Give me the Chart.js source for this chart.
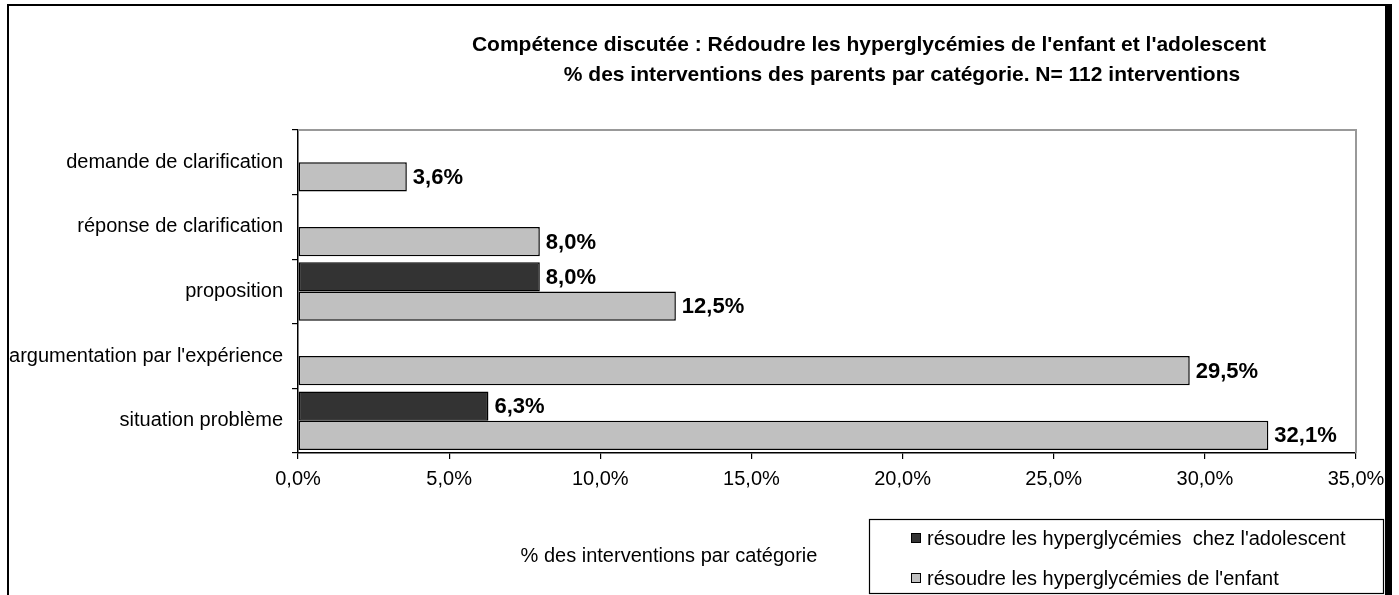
<!DOCTYPE html>
<html>
<head>
<meta charset="utf-8">
<script src="https://cdn.jsdelivr.net/npm/chart.js@4.4.1/dist/chart.umd.min.js"></script>
<style>
    body { margin: 0; background: #fff; }
    #wrap { position: relative; width: 1399px; height: 595px; }
    #frame {
        position: absolute; left: 7px; top: 4px; width: 1385px; height: 600px;
        border-left: 2px solid #000; border-top: 2px solid #000; border-right: 7px solid #000;
        box-sizing: border-box;
    }
    #chartBox { position: absolute; left: 0; top: 0; width: 1399px; height: 595px; }
</style>
</head>
<body>
<div id="wrap">
    <div id="frame"></div>
    <div id="chartBox"><canvas id="hyperChart"></canvas></div>
</div>
<script>
// categories, top to bottom
const categories = [
    'demande de clarification',
    'réponse de clarification',
    'proposition',
    "argumentation par l'expérience",
    'situation problème'
];
// % of interventions, null = no bar
const adolescentValues = [null, null, 8.0, null, 6.3];
const enfantValues = [3.6, 8.0, 12.5, 29.5, 32.1];
const seriesLabels = [
    "résoudre les hyperglycémies  chez l'adolescent",
    "résoudre les hyperglycémies de l'enfant"
];
const xTicks = [0, 5, 10, 15, 20, 25, 30, 35];
const titleLines = [
    "Compétence discutée : Rédoudre les hyperglycémies de l'enfant et l'adolescent",
    "% des interventions des parents par catégorie. N= 112 interventions"
];
const xAxisTitle = '% des interventions par catégorie';

const FONT = '"Liberation Sans", Arial, sans-serif';
const fmtPct = v => v.toFixed(1).replace('.', ',') + '%';

Chart.defaults.color = '#000';
Chart.defaults.font.family = FONT;

// value labels next to each bar
const barLabels = {
    id: 'barLabels',
    afterDatasetsDraw(chart) {
        const ctx = chart.ctx;
        ctx.save();
        ctx.font = 'bold 22px ' + FONT;
        ctx.fillStyle = '#000';
        ctx.textBaseline = 'middle';
        ctx.textAlign = 'left';
        chart.data.datasets.forEach((ds, i) => {
            chart.getDatasetMeta(i).data.forEach((bar, j) => {
                const v = ds.data[j];
                if (v === null) return;
                ctx.fillText(fmtPct(v), bar.x + 6, bar.y + 1);
            });
        });
        ctx.restore();
    }
};

// title, axis title, legend and the grey plot frame
const decorations = {
    id: 'decorations',
    afterDraw(chart) {
        const ctx = chart.ctx;
        const area = chart.chartArea;
        ctx.save();

        // grey top and right edge of the plot area
        ctx.strokeStyle = '#999';
        ctx.lineWidth = 2;
        ctx.beginPath();
        ctx.moveTo(area.left, area.top);
        ctx.lineTo(area.right, area.top);
        ctx.lineTo(area.right, area.bottom);
        ctx.stroke();

        // title
        ctx.fillStyle = '#000';
        ctx.textBaseline = 'middle';
        ctx.textAlign = 'center';
        ctx.font = 'bold 21px ' + FONT;
        ctx.fillText(titleLines[0], 869, 45);
        ctx.fillText(titleLines[1], 902, 75);

        // axis title
        ctx.font = '20px ' + FONT;
        ctx.fillText(xAxisTitle, 669, 556);

        // legend box
        ctx.strokeStyle = '#000';
        ctx.lineWidth = 1.2;
        ctx.strokeRect(869.5, 519.5, 514, 74);
        ctx.textAlign = 'left';
        chart.data.datasets.forEach((ds, i) => {
            const y = 538 + i * 40;
            ctx.fillStyle = ds.backgroundColor;
            ctx.fillRect(911, y - 5, 9, 9);
            ctx.lineWidth = 1;
            ctx.strokeRect(911.5, y - 4.5, 9, 9);
            ctx.fillStyle = '#000';
            ctx.fillText(ds.label, 927, y + 1);
        });
        ctx.restore();
    }
};

new Chart(document.getElementById('hyperChart'), {
    type: 'bar',
    data: {
        labels: categories,
        datasets: [{
            label: seriesLabels[0],
            data: adolescentValues,
            backgroundColor: '#333333',
            borderColor: '#000',
            borderWidth: 1.5,
            borderSkipped: false
        }, {
            label: seriesLabels[1],
            data: enfantValues,
            backgroundColor: '#c0c0c0',
            borderColor: '#000',
            borderWidth: 1.5,
            borderSkipped: false
        }]
    },
    options: {
        indexAxis: 'y',
        responsive: true,
        maintainAspectRatio: false,
        animation: false,
        datasets: {
            bar: { categoryPercentage: 0.905, barPercentage: 1.0 }
        },
        layout: { padding: { top: 130, right: 43, left: 0, bottom: 102 } },
        plugins: {
            legend: { display: false },
            title: { display: false },
            tooltip: { enabled: false }
        },
        scales: {
            x: {
                min: 0,
                max: 35,
                afterBuildTicks: axis => { axis.ticks = xTicks.map(v => ({ value: v })); },
                afterFit: axis => { axis.height = 40; },
                grid: { drawOnChartArea: false, tickLength: 6, color: '#000', lineWidth: 1.2 },
                border: { color: '#000', width: 1.5 },
                ticks: {
                    padding: 8,
                    font: { size: 20 },
                    callback: v => fmtPct(v)
                }
            },
            y: {
                afterFit: axis => { axis.width = 298; },
                grid: { drawOnChartArea: false, tickLength: 6, color: '#000', lineWidth: 1.2, offset: true },
                border: { color: '#000', width: 1.5 },
                ticks: { padding: 9, font: { size: 20 } }
            }
        }
    },
    plugins: [barLabels, decorations]
});
</script>
</body>
</html>
